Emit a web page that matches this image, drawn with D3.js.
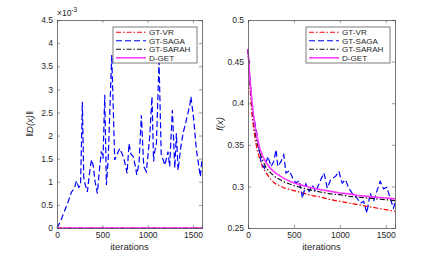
<!DOCTYPE html>
<html>
<head>
<meta charset="utf-8">
<script src="https://cdn.jsdelivr.net/npm/d3@7"></script>
<style>
  body { margin: 0; background: #fff; }
  text { font-family: "Liberation Sans", Arial, sans-serif; fill: #262626; }
</style>
</head>
<body>
<div id="chart"></div>
<script>
var width = 436, height = 256;

// legend entries
var seriesNames = ['GT-VR', 'GT-SAGA', 'GT-SARAH', 'D-GET'];
var seriesColors = ['#ff0000', '#0000ff', '#111111', '#ff33ff'];
var seriesDash = ['5,2,1.5,2', '6,3', '5,2,1.5,2', null];

// left panel: ||D(x)|| (x 1e-3), GT-SAGA is the only non-zero one
var sagaDIter = [0, 40, 80, 120, 160, 190, 215, 240, 260, 280, 295, 310, 335, 360, 380, 400, 420, 445, 470, 490, 508, 527, 545, 565, 604, 637, 665, 692, 720, 747, 773, 795, 815, 840, 869, 880, 905, 931, 957, 986, 1023, 1048, 1066, 1078, 1097, 1126, 1150, 1172, 1190, 1225, 1243, 1273, 1300, 1317, 1336, 1365, 1391, 1428, 1465, 1478, 1509, 1538, 1582, 1600];
var sagaD = [0, 0.15, 0.35, 0.55, 0.78, 0.85, 1.02, 0.88, 0.92, 2.73, 1.1, 0.95, 0.78, 1.2, 1.48, 1.35, 1.0, 0.75, 1.3, 1.66, 1.5, 2.88, 0.93, 1.5, 3.74, 1.47, 1.6, 1.72, 1.6, 1.43, 1.18, 1.83, 1.6, 1.55, 1.3, 1.15, 1.4, 2.44, 1.33, 1.22, 1.97, 2.84, 1.44, 1.65, 1.83, 3.6, 1.59, 1.47, 1.36, 1.65, 1.33, 2.55, 1.3, 2.05, 1.25, 1.73, 2.05, 2.34, 2.66, 2.84, 2.34, 1.69, 1.11, 1.5];
var zeroIter = [0, 1600];
var zeroD = [0, 0];

// right panel: f(x)
var curveIter = [0, 20, 40, 60, 80, 100, 130, 160, 200, 250, 300, 400, 500, 600, 700, 800, 900, 1000, 1100, 1200, 1300, 1400, 1500, 1600];
var vrF = [0.465, 0.42, 0.39, 0.37, 0.355, 0.344, 0.332, 0.323, 0.316, 0.308, 0.303, 0.298, 0.295, 0.292, 0.289, 0.287, 0.284, 0.282, 0.28, 0.278, 0.276, 0.274, 0.272, 0.27];
var sarahF = [0.465, 0.428, 0.4, 0.38, 0.363, 0.352, 0.34, 0.331, 0.322, 0.316, 0.311, 0.305, 0.301, 0.298, 0.295, 0.293, 0.291, 0.29, 0.288, 0.287, 0.286, 0.285, 0.284, 0.283];
var dgetF = [0.465, 0.43, 0.405, 0.385, 0.37, 0.358, 0.345, 0.336, 0.328, 0.321, 0.316, 0.309, 0.304, 0.301, 0.298, 0.296, 0.294, 0.292, 0.291, 0.289, 0.288, 0.287, 0.286, 0.285];
var sagaFIter = [0, 20, 40, 60, 90, 120, 144, 180, 216, 252, 280, 306, 324, 360, 389, 414, 450, 486, 522, 558, 593, 630, 665, 701, 737, 792, 827, 863, 899, 953, 989, 1025, 1061, 1097, 1133, 1187, 1223, 1259, 1294, 1330, 1366, 1402, 1439, 1475, 1511, 1547, 1583, 1600];
var sagaF = [0.465, 0.43, 0.405, 0.385, 0.368, 0.345, 0.328, 0.322, 0.336, 0.324, 0.33, 0.344, 0.324, 0.33, 0.338, 0.316, 0.319, 0.31, 0.304, 0.307, 0.286, 0.303, 0.294, 0.301, 0.294, 0.308, 0.316, 0.298, 0.308, 0.312, 0.318, 0.304, 0.308, 0.298, 0.292, 0.286, 0.28, 0.282, 0.268, 0.292, 0.282, 0.294, 0.306, 0.297, 0.299, 0.286, 0.274, 0.28];

var xTicks = [0, 500, 1000, 1500];
var leftTicks = [0, 0.5, 1, 1.5, 2, 2.5, 3, 3.5, 4, 4.5];
var rightTicks = [0.25, 0.3, 0.35, 0.4, 0.45, 0.5];

var svg = d3.select('#chart').append('svg')
    .attr('width', width)
    .attr('height', height);

function drawPanel(left, right, yDomain, yTicks, lines, legendX) {
    var top = 20, bottom = 228;
    var x = d3.scaleLinear().domain([0, 1600]).range([left, right]);
    var y = d3.scaleLinear().domain(yDomain).range([bottom, top]);
    var g = svg.append('g');

    // lines
    var line = d3.line()
        .x(function (d) { return x(d[0]); })
        .y(function (d) { return y(d[1]); });
    lines.forEach(function (s) {
        var pts = s.xs.map(function (v, i) { return [v, s.ys[i]]; });
        g.append('path')
            .attr('d', line(pts))
            .attr('fill', 'none')
            .attr('stroke', seriesColors[s.k])
            .attr('stroke-width', s.k == 3 ? 1.6 : 1.2)
            .attr('stroke-dasharray', seriesDash[s.k]);
    });

    // box and ticks (matlab style, inward)
    var axisColor = '#262626';
    g.append('g').attr('transform', 'translate(0,' + bottom + ')')
        .call(d3.axisBottom(x).tickValues(xTicks).tickSize(-3).tickPadding(4).tickFormat(d3.format('d')));
    g.append('g').attr('transform', 'translate(0,' + top + ')')
        .call(d3.axisTop(x).tickValues(xTicks).tickSize(-3).tickFormat(''));
    g.append('g').attr('transform', 'translate(' + left + ',0)')
        .call(d3.axisLeft(y).tickValues(yTicks).tickSize(-3).tickPadding(4).tickFormat(d3.format('')));
    g.append('g').attr('transform', 'translate(' + right + ',0)')
        .call(d3.axisRight(y).tickValues(yTicks).tickSize(-3).tickFormat(''));
    g.selectAll('.domain').attr('stroke', '#555').attr('stroke-width', 0.8);
    g.selectAll('.tick line').attr('stroke', '#555').attr('stroke-width', 0.6);
    g.selectAll('.tick text').attr('font-size', 8.5).attr('fill', axisColor)
        .attr('font-family', '"Liberation Sans", Arial, sans-serif');

    g.append('text')
        .attr('x', (left + right) / 2)
        .attr('y', 250)
        .attr('text-anchor', 'middle')
        .attr('font-size', 9.5)
        .text('iterations');

    // legend
    var lg = g.append('g').attr('transform', 'translate(' + legendX + ',27)');
    lg.append('rect')
        .attr('width', 84).attr('height', 36)
        .attr('fill', '#fff').attr('stroke', axisColor).attr('stroke-width', 0.6);
    seriesNames.forEach(function (name, i) {
        var yy = 5.3 + i * 8.5;
        lg.append('line')
            .attr('x1', 3).attr('x2', 33).attr('y1', yy).attr('y2', yy)
            .attr('stroke', seriesColors[i])
            .attr('stroke-width', i == 3 ? 1.5 : 1.1)
            .attr('stroke-dasharray', seriesDash[i]);
        lg.append('text')
            .attr('x', 36).attr('y', yy + 2.9)
            .attr('font-size', 8.1)
            .text(name);
    });
    return g;
}

var gl = drawPanel(57, 202, [0, 4.5], leftTicks, [
    { k: 1, xs: sagaDIter, ys: sagaD },
    { k: 0, xs: zeroIter, ys: zeroD },
    { k: 2, xs: zeroIter, ys: zeroD },
    { k: 3, xs: zeroIter, ys: zeroD }
], 113);

// exponent note
var ex = gl.append('text').attr('x', 57).attr('y', 16).attr('font-size', 8.5);
ex.append('tspan').text('\u00d710');
ex.append('tspan').attr('dy', -4).attr('font-size', 6.5).text('-3');

gl.append('text')
    .attr('transform', 'translate(33,124) rotate(-90)')
    .attr('text-anchor', 'middle')
    .attr('font-size', 9.5)
    .attr('font-family', '"DejaVu Serif", serif')
    .attr('font-style', 'italic')
    .text('\u2016D(x)\u2016');

var gr = drawPanel(248, 395, [0.25, 0.5], rightTicks, [
    { k: 0, xs: curveIter, ys: vrF },
    { k: 1, xs: sagaFIter, ys: sagaF },
    { k: 2, xs: curveIter, ys: sarahF },
    { k: 3, xs: curveIter, ys: dgetF }
], 306);

gr.append('text')
    .attr('transform', 'translate(223,124) rotate(-90)')
    .attr('text-anchor', 'middle')
    .attr('font-size', 9.5)
    .attr('font-family', '"DejaVu Serif", serif')
    .attr('font-style', 'italic')
    .text('f(x)');
</script>
</body>
</html>
